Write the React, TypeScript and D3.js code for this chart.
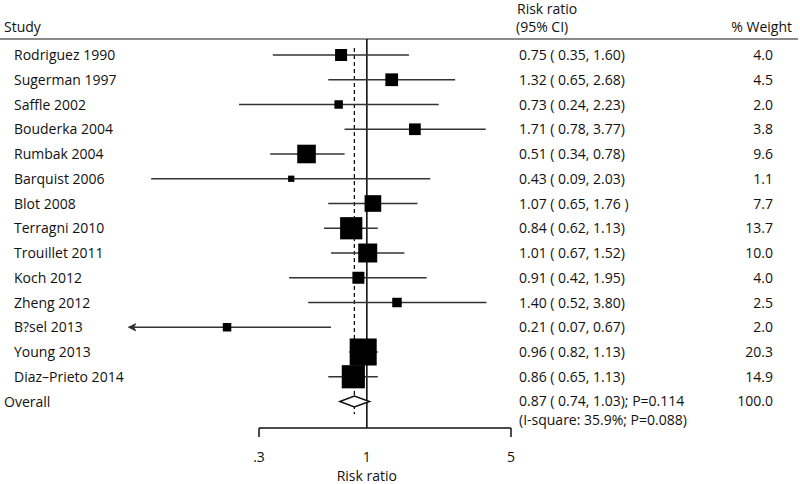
import React from "react";
import * as d3 from "d3";

const studies = [
  "Rodriguez 1990", "Sugerman 1997", "Saffle 2002", "Bouderka 2004", "Rumbak 2004",
  "Barquist 2006", "Blot 2008", "Terragni 2010", "Trouillet 2011", "Koch 2012",
  "Zheng 2012", "B?sel 2013", "Young 2013", "Diaz\u2013Prieto 2014",
];
const rr = [0.75, 1.32, 0.73, 1.71, 0.51, 0.43, 1.07, 0.84, 1.01, 0.91, 1.40, 0.21, 0.96, 0.86];
const lower = [0.35, 0.65, 0.24, 0.78, 0.34, 0.09, 0.65, 0.62, 0.67, 0.42, 0.52, 0.07, 0.82, 0.65];
const upper = [1.60, 2.68, 2.23, 3.77, 0.78, 2.03, 1.76, 1.13, 1.52, 1.95, 3.80, 0.67, 1.13, 1.13];
const weights = ["4.0", "4.5", "2.0", "3.8", "9.6", "1.1", "7.7", "13.7", "10.0", "4.0", "2.5", "2.0", "20.3", "14.9"];
const ciLabels = [
  "0.75 ( 0.35, 1.60)", "1.32 ( 0.65, 2.68)", "0.73 ( 0.24, 2.23)", "1.71 ( 0.78, 3.77)",
  "0.51 ( 0.34, 0.78)", "0.43 ( 0.09, 2.03)", "1.07 ( 0.65, 1.76 )", "0.84 ( 0.62, 1.13)",
  "1.01 ( 0.67, 1.52)", "0.91 ( 0.42, 1.95)", "1.40 ( 0.52, 3.80)", "0.21 ( 0.07, 0.67)",
  "0.96 ( 0.82, 1.13)", "0.86 ( 0.65, 1.13)",
];
const arrowLeft = [false, false, false, false, false, false, false, false, false, false, false, true, false, false];
const overall = { rr: 0.87, lo: 0.74, hi: 1.03, weight: "100.0", label: "0.87 ( 0.74, 1.03); P=0.114", het: "(I-square: 35.9%; P=0.088)" };
const tickValues = [0.3, 1, 5];
const tickLabels = [".3", "1", "5"];

const FONT = "'Open Sans', 'DejaVu Sans', sans-serif";

export default function App() {
  const x = d3.scaleLog().domain([0.3, 5]).range([259, 511]);
  const rowY = d3.scaleLinear().domain([0, 14]).range([55, 401.5]);
  const axisY = 428;
  const fs = 14;

  return (
    <svg width={800} height={484} style={{ position: "absolute", left: 0, top: 0, background: "#fff" }}
      fontFamily={FONT} fontSize={fs}>
      <rect x={0} y={0} width={800} height={484} fill="#fff" />
      {/* header */}
      <text x={4} y={32} fill="#111">Study</text>
      <text x={517} y={14} fill="#111">Risk ratio</text>
      <text x={516} y={32} fill="#111">(95% CI)</text>
      <text x={792} y={32} textAnchor="end" fill="#111">% Weight</text>
      <line x1={0} x2={798} y1={39} y2={39} stroke="#8a8a8a" strokeWidth={2} />

      {/* reference lines */}
      <line x1={x(1)} x2={x(1)} y1={39} y2={axisY} stroke="#111" strokeWidth={1.6} />
      <line x1={x(overall.rr)} x2={x(overall.rr)} y1={48} y2={414} stroke="#111" strokeWidth={1.3} strokeDasharray="4,3" />

      {/* studies */}
      {studies.map((s, i) => {
        const y = rowY(i);
        const side = 6 * Math.sqrt(parseFloat(weights[i]));
        const x1 = x(lower[i]);
        const x2 = x(upper[i]);
        return (
          <g key={s}>
            <text x={14} y={y + 5} fill="#111">{s}</text>
            <line x1={x1} x2={x2} y1={y} y2={y} stroke="#333" strokeWidth={1.5} />
            {arrowLeft[i] && (
              <path d={`M${x1},${y} l7,-3.5 l-2,3.5 l2,3.5 z`} fill="#333" stroke="#333" strokeWidth={1} />
            )}
            <rect x={x(rr[i]) - side / 2} y={y - side / 2} width={side} height={side} fill="#000" />
            <text x={519} y={y + 5} fill="#111">{ciLabels[i]}</text>
            <text x={773} y={y + 5} textAnchor="end" fill="#111">{weights[i]}</text>
          </g>
        );
      })}

      {/* overall */}
      {(() => {
        const y = rowY(14);
        const h = 5.5;
        return (
          <g>
            <text x={4} y={y + 5} fill="#111">Overall</text>
            <path
              d={`M${x(overall.lo)},${y} L${x(overall.rr)},${y - h} L${x(overall.hi)},${y} L${x(overall.rr)},${y + h} Z`}
              fill="#fff" stroke="#111" strokeWidth={1.5} />
            <text x={519} y={y + 4} fill="#111">{overall.label}</text>
            <text x={519} y={y + 23.5} fill="#111">{overall.het}</text>
            <text x={773} y={y + 4} textAnchor="end" fill="#111">{overall.weight}</text>
          </g>
        );
      })()}

      {/* axis */}
      <line x1={x(0.3)} x2={x(5)} y1={axisY} y2={axisY} stroke="#111" strokeWidth={1.5} />
      {tickValues.map((v, i) => (
        <g key={v}>
          {v !== 1 && <line x1={x(v)} x2={x(v)} y1={axisY} y2={axisY + 9} stroke="#111" strokeWidth={1.5} />}
          <text x={x(v)} y={462} textAnchor="middle" fill="#111">{tickLabels[i]}</text>
        </g>
      ))}
      <text x={x(1)} y={481} textAnchor="middle" fill="#111">Risk ratio</text>
    </svg>
  );
}
